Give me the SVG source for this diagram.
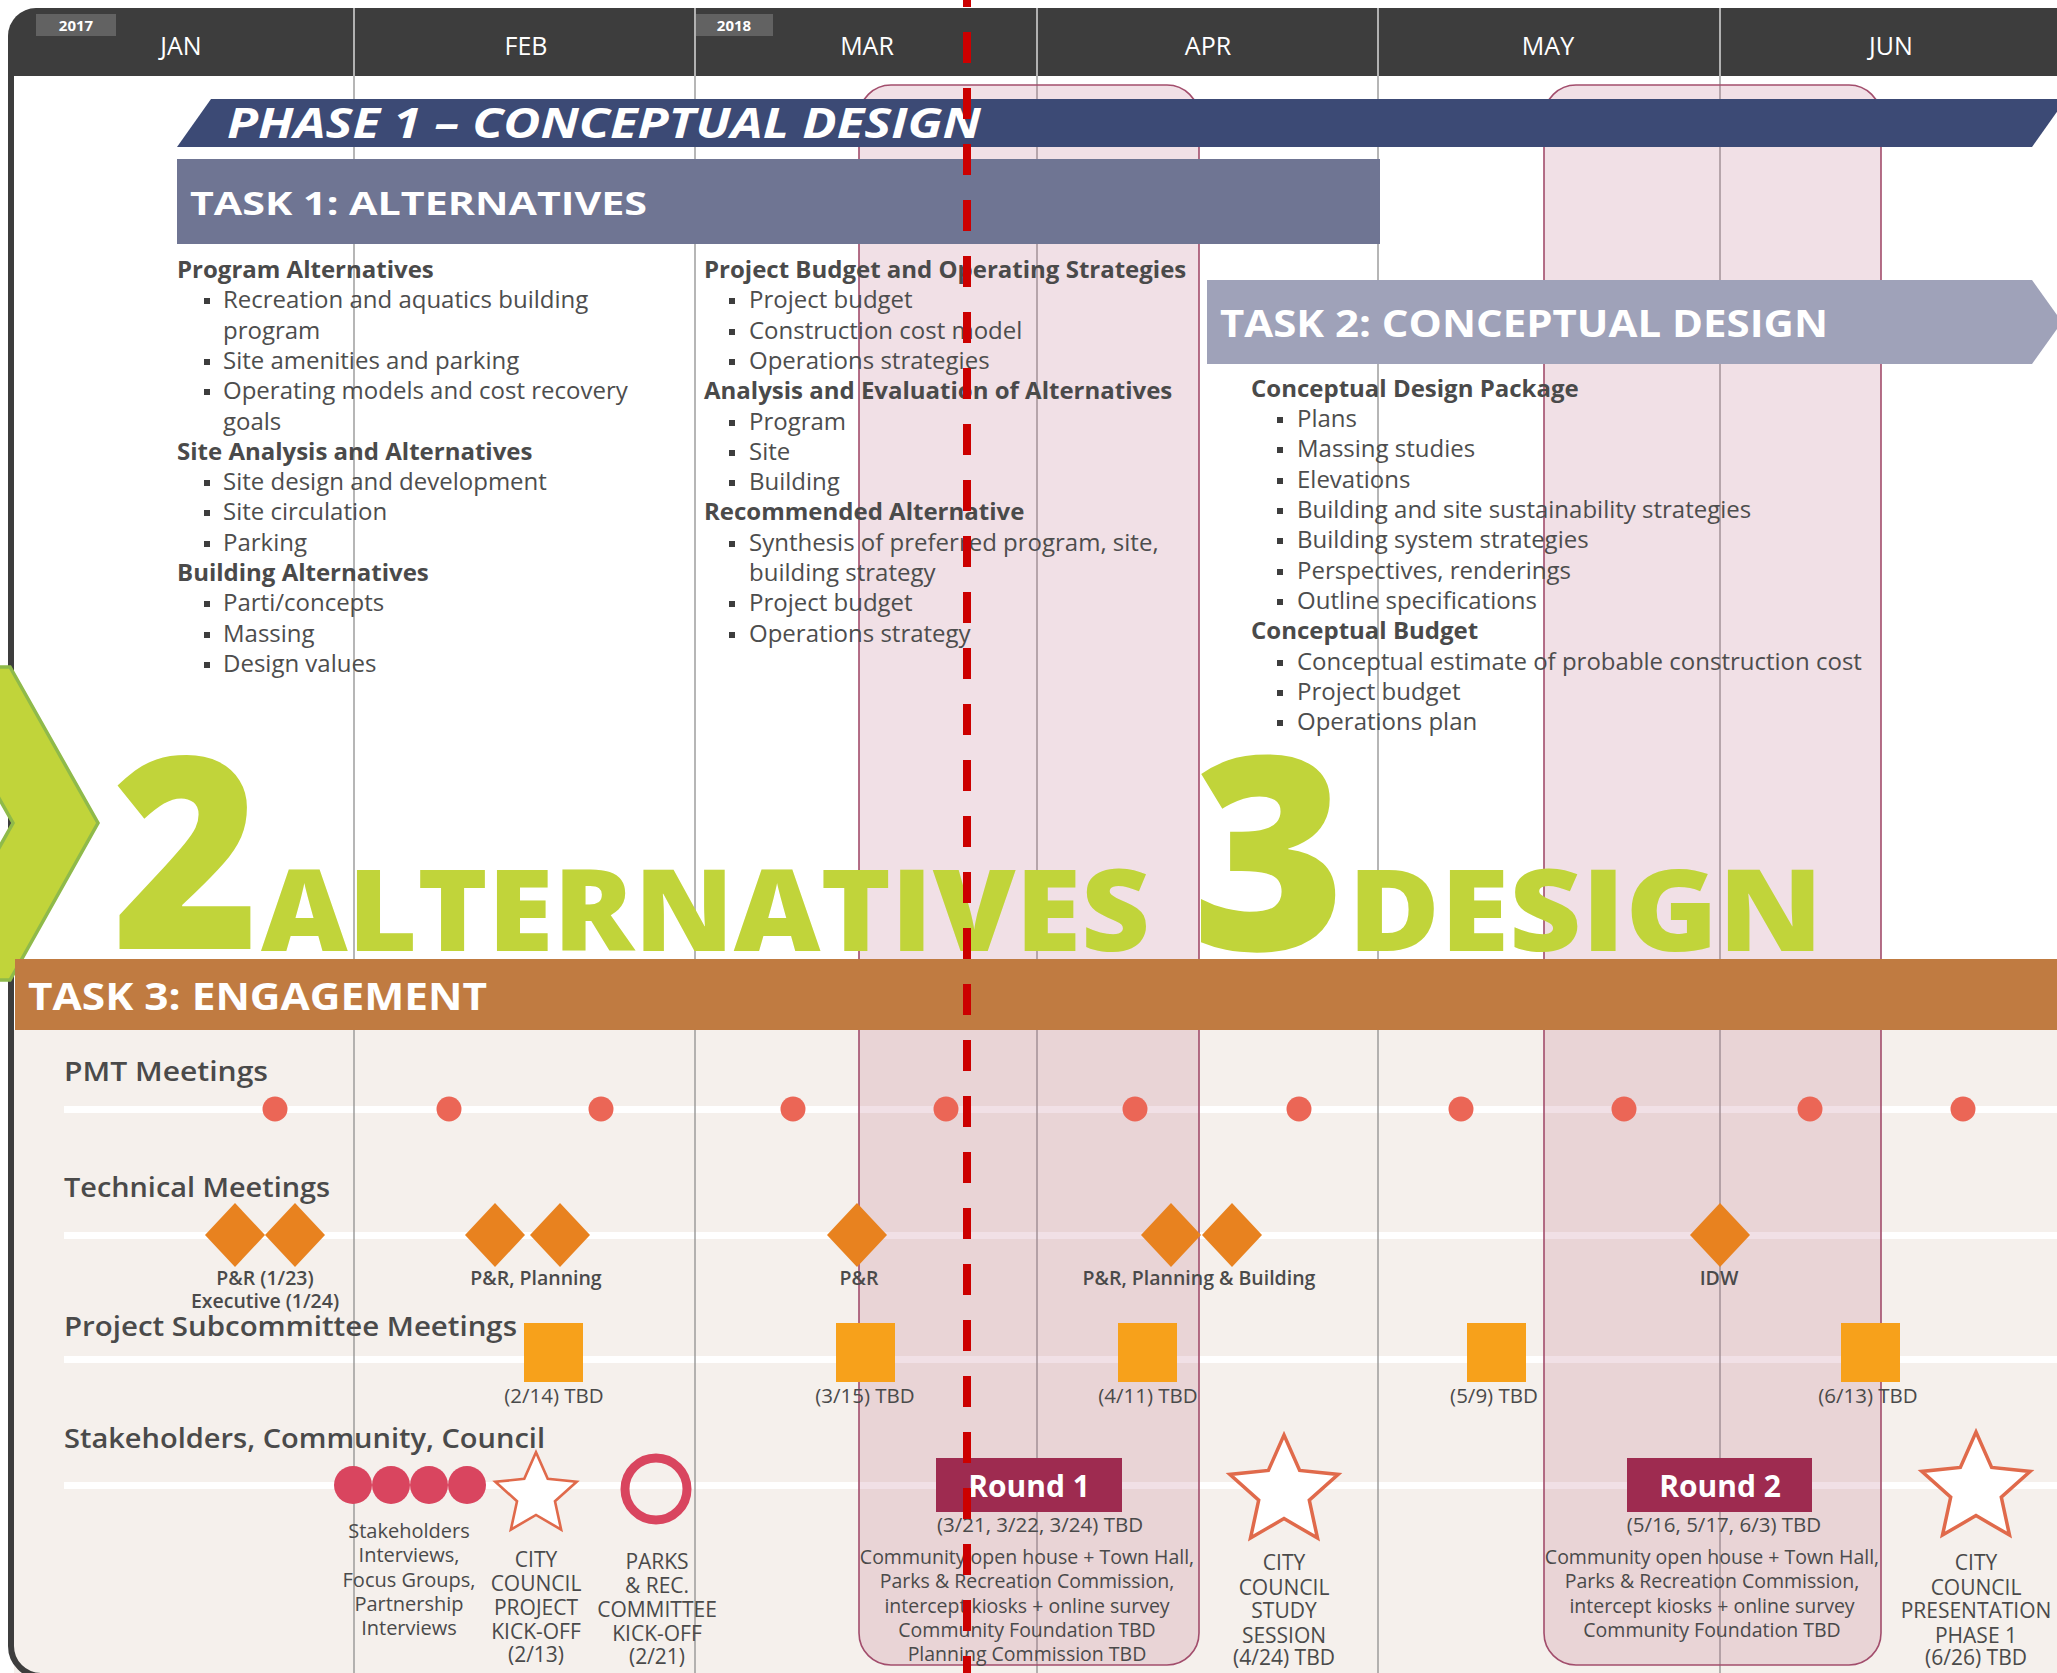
<svg xmlns="http://www.w3.org/2000/svg" xmlns:xlink="http://www.w3.org/1999/xlink" width="2057" height="1673" viewBox="0 0 2057 1673">
<style>
text{font-family:"Open Sans","Lato","DejaVu Sans",sans-serif}
.mon{fill:#fff;font-size:25px;text-anchor:middle}
.yr{fill:#fff;font-size:15px;font-weight:700;text-anchor:middle}
.hd{fill:#4a4a4a;font-size:24px;font-weight:700}
.it{fill:#4d4d4d;font-size:24px}
.bul{fill:#3d3d3d}
.big{fill:#c1d43a;font-weight:800}
.bar{fill:#fff;font-weight:700}
.row{fill:#4a4a4a;font-size:27px;font-weight:600}
.lab{fill:#4a4a4a;font-size:19.5px;font-weight:600;text-anchor:middle}
.tbd{fill:#4a4a4a;font-size:20.5px;text-anchor:middle}
.sm{fill:#4a4a4a;font-size:19.5px;text-anchor:middle}
.sk{fill:#4a4a4a;font-size:20px;text-anchor:middle}
.cc{fill:#4a4a4a;font-size:21px;text-anchor:middle}
.grid{stroke:#8f8f8f;stroke-width:1.3}
.hsep{stroke:#d8d8d8;stroke-width:1.5}
.col{fill:rgb(185,100,130);fill-opacity:0.2;stroke:#a24d6c;stroke-width:1.6}
.rl{fill:#fff}
.dot{fill:#eb6656}
.dia{fill:#e8821f}
.sq{fill:#f7a11b}
.cr{fill:#d9455f}
.star{fill:#fff;stroke:#e06a4b;stroke-width:3.5;stroke-linejoin:miter}
.rnd{fill:#9e2b50}
.rndt{fill:#fff;font-size:30px;font-weight:700;text-anchor:middle}
</style>
<defs>
<polygon id="dia" class="dia" points="0,-32 30,0 0,32 -30,0"/>
<polygon id="star" class="star" points="0,-57 15.64,-21.52 54.21,-17.61 25.30,8.22 33.50,46.11 0,26.6 -33.50,46.11 -25.30,8.22 -54.21,-17.61 -15.64,-21.52"/>
</defs>

<rect x="0" y="0" width="2057" height="1673" fill="#fff"/>
<rect id="engagement-bg" x="14" y="1030" width="2043" height="643" fill="#f5f0ec"/>

<g id="row-lines">
<rect class="rl" x="64" y="1106" width="1993" height="7"/>
<rect class="rl" x="64" y="1232" width="1993" height="7"/>
<rect class="rl" x="64" y="1356" width="1993" height="7"/>
<rect class="rl" x="64" y="1482" width="1993" height="7"/>
</g>

<g id="gridlines">
<line class="grid" x1="354" y1="76" x2="354" y2="1673"/>
<line class="grid" x1="695" y1="76" x2="695" y2="1673"/>
<line class="grid" x1="1037" y1="76" x2="1037" y2="1673"/>
<line class="grid" x1="1378" y1="76" x2="1378" y2="1673"/>
<line class="grid" x1="1720" y1="76" x2="1720" y2="1673"/>
</g>

<g id="frame">
<path d="M11,40 V1646 A30,30 0 0 0 41,1676 H2057" fill="none" stroke="#3d3d3d" stroke-width="6"/>
</g>

<g id="header">
<path d="M8,36 A28,28 0 0 1 36,8 H2057 V76 H8 Z" fill="#3d3d3d"/>
<line class="hsep" x1="354" y1="8" x2="354" y2="76"/>
<line class="hsep" x1="695" y1="8" x2="695" y2="76"/>
<line class="hsep" x1="1037" y1="8" x2="1037" y2="76"/>
<line class="hsep" x1="1378" y1="8" x2="1378" y2="76"/>
<line class="hsep" x1="1720" y1="8" x2="1720" y2="76"/>
<rect x="36" y="14" width="80" height="22" fill="#626262"/>
<text class="yr" x="76" y="31">2017</text>
<rect x="696" y="14" width="77" height="22" fill="#626262"/>
<text class="yr" x="734" y="31">2018</text>
<text class="mon" x="181" y="55">JAN</text>
<text class="mon" x="526" y="55">FEB</text>
<text class="mon" x="867" y="55">MAR</text>
<text class="mon" x="1208" y="55">APR</text>
<text class="mon" x="1548" y="55">MAY</text>
<text class="mon" x="1891" y="55">JUN</text>
</g>

<g id="round-windows">
<rect id="window-round1" class="col" x="859" y="85" width="340" height="1580" rx="32" ry="32"/>
<rect id="window-round2" class="col" x="1544" y="85" width="337" height="1580" rx="32" ry="32"/>
</g>

<g id="phase1">
<polygon points="211,99 2066,99 2032,147 177,147" fill="#3c4a75"/>
<text class="bar" x="227" y="138" font-size="42" font-style="italic" textLength="754" lengthAdjust="spacingAndGlyphs">PHASE 1 – CONCEPTUAL DESIGN</text>
</g>

<g id="task1">
<rect x="177" y="159" width="1203" height="85" fill="#6f7593"/>
<text class="bar" x="190" y="215" font-size="32" textLength="457" lengthAdjust="spacingAndGlyphs">TASK 1: ALTERNATIVES</text>
</g>

<g id="task1-col1">
<text class="hd" x="177" y="278">Program Alternatives</text>
<rect class="bul" x="204" y="298" width="6" height="6"/><text class="it" x="223" y="308">Recreation and aquatics building</text>
<text class="it" x="223" y="339">program</text>
<rect class="bul" x="204" y="359" width="6" height="6"/><text class="it" x="223" y="369">Site amenities and parking</text>
<rect class="bul" x="204" y="389" width="6" height="6"/><text class="it" x="223" y="399">Operating models and cost recovery</text>
<text class="it" x="223" y="430">goals</text>
<text class="hd" x="177" y="460">Site Analysis and Alternatives</text>
<rect class="bul" x="204" y="480" width="6" height="6"/><text class="it" x="223" y="490">Site design and development</text>
<rect class="bul" x="204" y="510" width="6" height="6"/><text class="it" x="223" y="520">Site circulation</text>
<rect class="bul" x="204" y="541" width="6" height="6"/><text class="it" x="223" y="551">Parking</text>
<text class="hd" x="177" y="581">Building Alternatives</text>
<rect class="bul" x="204" y="601" width="6" height="6"/><text class="it" x="223" y="611">Parti/concepts</text>
<rect class="bul" x="204" y="632" width="6" height="6"/><text class="it" x="223" y="642">Massing</text>
<rect class="bul" x="204" y="662" width="6" height="6"/><text class="it" x="223" y="672">Design values</text>
</g>

<g id="task1-col2">
<text class="hd" x="704" y="278">Project Budget and Operating Strategies</text>
<rect class="bul" x="729" y="298" width="6" height="6"/><text class="it" x="749" y="308">Project budget</text>
<rect class="bul" x="729" y="329" width="6" height="6"/><text class="it" x="749" y="339">Construction cost model</text>
<rect class="bul" x="729" y="359" width="6" height="6"/><text class="it" x="749" y="369">Operations strategies</text>
<text class="hd" x="704" y="399">Analysis and Evaluation of Alternatives</text>
<rect class="bul" x="729" y="420" width="6" height="6"/><text class="it" x="749" y="430">Program</text>
<rect class="bul" x="729" y="450" width="6" height="6"/><text class="it" x="749" y="460">Site</text>
<rect class="bul" x="729" y="480" width="6" height="6"/><text class="it" x="749" y="490">Building</text>
<text class="hd" x="704" y="520">Recommended Alternative</text>
<rect class="bul" x="729" y="541" width="6" height="6"/><text class="it" x="749" y="551">Synthesis of preferred program, site,</text>
<text class="it" x="749" y="581">building strategy</text>
<rect class="bul" x="729" y="601" width="6" height="6"/><text class="it" x="749" y="611">Project budget</text>
<rect class="bul" x="729" y="632" width="6" height="6"/><text class="it" x="749" y="642">Operations strategy</text>
</g>

<g id="task2">
<polygon points="1207,280 2032,280 2062,322 2032,364 1207,364" fill="#9fa2b9"/>
<text class="bar" x="1220" y="337" font-size="37" textLength="608" lengthAdjust="spacingAndGlyphs">TASK 2: CONCEPTUAL DESIGN</text>
</g>

<g id="task2-content">
<text class="hd" x="1251" y="397">Conceptual Design Package</text>
<rect class="bul" x="1277" y="417" width="6" height="6"/><text class="it" x="1297" y="427">Plans</text>
<rect class="bul" x="1277" y="447" width="6" height="6"/><text class="it" x="1297" y="457">Massing studies</text>
<rect class="bul" x="1277" y="478" width="6" height="6"/><text class="it" x="1297" y="488">Elevations</text>
<rect class="bul" x="1277" y="508" width="6" height="6"/><text class="it" x="1297" y="518">Building and site sustainability strategies</text>
<rect class="bul" x="1277" y="538" width="6" height="6"/><text class="it" x="1297" y="548">Building system strategies</text>
<rect class="bul" x="1277" y="569" width="6" height="6"/><text class="it" x="1297" y="579">Perspectives, renderings</text>
<rect class="bul" x="1277" y="599" width="6" height="6"/><text class="it" x="1297" y="609">Outline specifications</text>
<text class="hd" x="1251" y="639">Conceptual Budget</text>
<rect class="bul" x="1277" y="660" width="6" height="6"/><text class="it" x="1297" y="670">Conceptual estimate of probable construction cost</text>
<rect class="bul" x="1277" y="690" width="6" height="6"/><text class="it" x="1297" y="700">Project budget</text>
<rect class="bul" x="1277" y="720" width="6" height="6"/><text class="it" x="1297" y="730">Operations plan</text>
</g>

<g id="chevron">
<polygon points="-75,667 10,667 98,823 10,980 -75,980 13,823" fill="#c1d43a" stroke="#8fba4a" stroke-width="3.5"/>
</g>

<g id="step2">
<text class="big" x="112" y="949" font-size="268" textLength="148" lengthAdjust="spacingAndGlyphs">2</text>
<text class="big" x="261" y="951" font-size="114" textLength="889" lengthAdjust="spacingAndGlyphs">ALTERNATIVES</text>
</g>
<g id="step3">
<text class="big" x="1192" y="950" font-size="270" textLength="154" lengthAdjust="spacingAndGlyphs">3</text>
<text class="big" x="1348" y="951" font-size="114" textLength="475" lengthAdjust="spacingAndGlyphs">DESIGN</text>
</g>

<g id="task3">
<rect x="15" y="959" width="2042" height="71" fill="#c07b41"/>
<text class="bar" x="28" y="1010" font-size="38" textLength="459" lengthAdjust="spacingAndGlyphs">TASK 3: ENGAGEMENT</text>
</g>

<g id="row-labels">
<text class="row" x="64" y="1081" textLength="204" lengthAdjust="spacingAndGlyphs">PMT Meetings</text>
<text class="row" x="64" y="1197" textLength="266" lengthAdjust="spacingAndGlyphs">Technical Meetings</text>
<text class="row" x="64" y="1336" textLength="453" lengthAdjust="spacingAndGlyphs">Project Subcommittee Meetings</text>
<text class="row" x="64" y="1448" textLength="481" lengthAdjust="spacingAndGlyphs">Stakeholders, Community, Council</text>
</g>

<g id="pmt-meetings">
<circle class="dot" cx="275" cy="1109" r="12.5"/>
<circle class="dot" cx="449" cy="1109" r="12.5"/>
<circle class="dot" cx="601" cy="1109" r="12.5"/>
<circle class="dot" cx="793" cy="1109" r="12.5"/>
<circle class="dot" cx="946" cy="1109" r="12.5"/>
<circle class="dot" cx="1135" cy="1109" r="12.5"/>
<circle class="dot" cx="1299" cy="1109" r="12.5"/>
<circle class="dot" cx="1461" cy="1109" r="12.5"/>
<circle class="dot" cx="1624" cy="1109" r="12.5"/>
<circle class="dot" cx="1810" cy="1109" r="12.5"/>
<circle class="dot" cx="1963" cy="1109" r="12.5"/>
</g>

<g id="tech-pr-exec">
<use xlink:href="#dia" x="235" y="1235"/>
<use xlink:href="#dia" x="295" y="1235"/>
<text class="lab" x="265" y="1285">P&amp;R (1/23)</text>
<text class="lab" x="265" y="1308">Executive (1/24)</text>
</g>
<g id="tech-pr-planning">
<use xlink:href="#dia" x="495" y="1235"/>
<use xlink:href="#dia" x="560" y="1235"/>
<text class="lab" x="536" y="1285">P&amp;R, Planning</text>
</g>
<g id="tech-pr">
<use xlink:href="#dia" x="857" y="1235"/>
<text class="lab" x="859" y="1285">P&amp;R</text>
</g>
<g id="tech-pr-planning-building">
<use xlink:href="#dia" x="1171" y="1235"/>
<use xlink:href="#dia" x="1232" y="1235"/>
<text class="lab" x="1199" y="1285">P&amp;R, Planning &amp; Building</text>
</g>
<g id="tech-idw">
<use xlink:href="#dia" x="1720" y="1235"/>
<text class="lab" x="1719" y="1285">IDW</text>
</g>

<g id="subcommittee">
<rect class="sq" x="524" y="1323" width="59" height="59"/>
<text class="tbd" x="554" y="1403">(2/14) TBD</text>
<rect class="sq" x="836" y="1323" width="59" height="59"/>
<text class="tbd" x="865" y="1403">(3/15) TBD</text>
<rect class="sq" x="1118" y="1323" width="59" height="59"/>
<text class="tbd" x="1148" y="1403">(4/11) TBD</text>
<rect class="sq" x="1467" y="1323" width="59" height="59"/>
<text class="tbd" x="1494" y="1403">(5/9) TBD</text>
<rect class="sq" x="1841" y="1323" width="59" height="59"/>
<text class="tbd" x="1868" y="1403">(6/13) TBD</text>
</g>

<g id="stakeholder-interviews">
<circle class="cr" cx="353" cy="1485" r="19"/>
<circle class="cr" cx="391" cy="1485" r="19"/>
<circle class="cr" cx="429" cy="1485" r="19"/>
<circle class="cr" cx="467" cy="1485" r="19"/>
<text class="sk" x="409" y="1538">Stakeholders</text>
<text class="sk" x="409" y="1562">Interviews,</text>
<text class="sk" x="409" y="1587">Focus Groups,</text>
<text class="sk" x="409" y="1611">Partnership</text>
<text class="sk" x="409" y="1635">Interviews</text>
</g>

<g id="council-kickoff">
<use xlink:href="#star" transform="translate(536,1495) scale(0.75)"/>
<text class="cc" x="536" y="1567">CITY</text>
<text class="cc" x="536" y="1591">COUNCIL</text>
<text class="cc" x="536" y="1615">PROJECT</text>
<text class="cc" x="536" y="1639">KICK-OFF</text>
<text class="cc" x="536" y="1662">(2/13)</text>
</g>

<g id="parks-kickoff">
<circle cx="656" cy="1489" r="31" fill="none" stroke="#d9455f" stroke-width="9"/>
<text class="cc" x="657" y="1569">PARKS</text>
<text class="cc" x="657" y="1593">&amp; REC.</text>
<text class="cc" x="657" y="1617">COMMITTEE</text>
<text class="cc" x="657" y="1641">KICK-OFF</text>
<text class="cc" x="657" y="1664">(2/21)</text>
</g>

<g id="round1">
<rect class="rnd" x="936" y="1458" width="186" height="54"/>
<text class="rndt" x="1029" y="1497">Round 1</text>
<text class="tbd" x="1040" y="1532">(3/21, 3/22, 3/24) TBD</text>
<text class="sm" x="1027" y="1564">Community open house + Town Hall,</text>
<text class="sm" x="1027" y="1588">Parks &amp; Recreation Commission,</text>
<text class="sm" x="1027" y="1613">intercept kiosks + online survey</text>
<text class="sm" x="1027" y="1637">Community Foundation TBD</text>
<text class="sm" x="1027" y="1661">Planning Commission TBD</text>
</g>

<g id="council-study">
<use xlink:href="#star" transform="translate(1284,1492)"/>
<text class="cc" x="1284" y="1570">CITY</text>
<text class="cc" x="1284" y="1595">COUNCIL</text>
<text class="cc" x="1284" y="1618">STUDY</text>
<text class="cc" x="1284" y="1643">SESSION</text>
<text class="cc" x="1284" y="1665">(4/24) TBD</text>
</g>

<g id="round2">
<rect class="rnd" x="1627" y="1458" width="185" height="54"/>
<text class="rndt" x="1720" y="1497">Round 2</text>
<text class="tbd" x="1724" y="1532">(5/16, 5/17, 6/3) TBD</text>
<text class="sm" x="1712" y="1564">Community open house + Town Hall,</text>
<text class="sm" x="1712" y="1588">Parks &amp; Recreation Commission,</text>
<text class="sm" x="1712" y="1613">intercept kiosks + online survey</text>
<text class="sm" x="1712" y="1637">Community Foundation TBD</text>
</g>

<g id="council-presentation">
<use xlink:href="#star" transform="translate(1976,1489)"/>
<text class="cc" x="1976" y="1570">CITY</text>
<text class="cc" x="1976" y="1595">COUNCIL</text>
<text class="cc" x="1976" y="1618">PRESENTATION</text>
<text class="cc" x="1976" y="1643">PHASE 1</text>
<text class="cc" x="1976" y="1665">(6/26) TBD</text>
</g>

<g id="connectors">
<line id="today-line" x1="967" y1="-24" x2="967" y2="1673" stroke="#cc0000" stroke-width="8" stroke-dasharray="31 25"/>
</g>
</svg>
